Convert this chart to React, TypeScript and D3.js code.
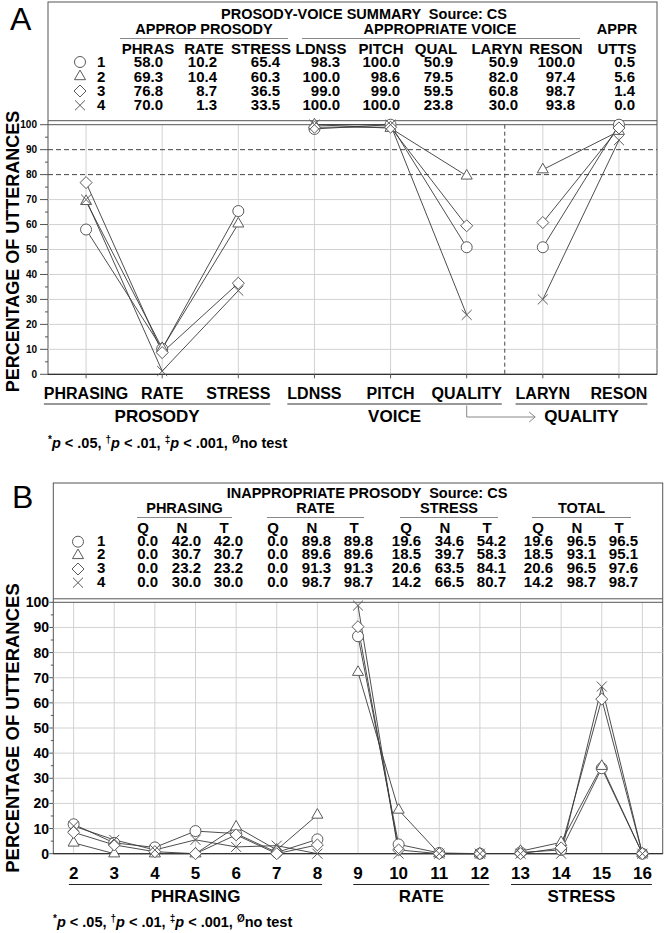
import React from 'react';
import * as d3 from 'd3';

const FONT = '"Liberation Sans", Arial, Helvetica, sans-serif';
const W = 664;
const H = 933;

// ---------- panel A : prosody-voice summary ----------
const A_CATEGORIES = ['PHRASING', 'RATE', 'STRESS', 'LDNSS', 'PITCH', 'QUALITY', 'LARYN', 'RESON'];
const A_GROUPS = [
  { label: 'PROSODY', from: 'PHRASING', to: 'STRESS' },
  { label: 'VOICE', from: 'LDNSS', to: 'QUALITY' },
  { label: 'QUALITY', from: 'LARYN', to: 'RESON' },
];
const A_SEGMENTS = [[0, 1, 2], [3, 4, 5], [6, 7]];
const A_SERIES_1 = [58.0, 10.2, 65.4, 98.3, 100.0, 50.9, 50.9, 100.0];
const A_SERIES_2 = [69.3, 10.4, 60.3, 100.0, 98.6, 79.5, 82.0, 97.4];
const A_SERIES_3 = [76.8, 8.7, 36.5, 99.0, 99.0, 59.5, 60.8, 98.7];
const A_SERIES_4 = [70.0, 1.3, 33.5, 100.0, 100.0, 23.8, 30.0, 93.8];
const A_APPR_UTTS = [0.5, 5.6, 1.4, 0.0];
const A_COLUMNS = ['PHRAS', 'RATE', 'STRESS', 'LDNSS', 'PITCH', 'QUAL', 'LARYN', 'RESON', 'UTTS'];
const A_DASHED = [80, 90];

// ---------- panel B : inappropriate prosody ----------
const B_CATEGORIES = [2, 3, 4, 5, 6, 7, 8, 9, 10, 11, 12, 13, 14, 15, 16];
const B_GROUPS = [
  { label: 'PHRASING', from: 2, to: 8 },
  { label: 'RATE', from: 9, to: 12 },
  { label: 'STRESS', from: 13, to: 16 },
];
const B_SEGMENTS = [[0, 1, 2, 3, 4, 5, 6], [7, 8, 9, 10], [11, 12, 13, 14]];
const B_SERIES_1 = [11.7, 4.3, 2.5, 9.0, 8.0, 0.5, 5.7, 86.5, 3.7, 0.3, 0, 0.5, 1.5, 34.0, 0];
const B_SERIES_2 = [4.3, 0, 0, 0, 10.7, 1.5, 15.4, 72.2, 17.4, 0, 0, 1.0, 4.5, 34.8, 0];
const B_SERIES_3 = [8.5, 3.5, 0.8, 0, 7.5, 0, 3.5, 90.3, 1.5, 0, 0, 0, 2.3, 61.5, 0];
const B_SERIES_4 = [11.0, 5.5, 1.5, 5.5, 2.7, 3.2, 0, 98.7, 0, 0, 0, 0, 0, 66.5, 0];
const B_TABLE_GROUPS = ['PHRASING', 'RATE', 'STRESS', 'TOTAL'];
const B_TABLE_COLS = ['Q', 'N', 'T'];
const B_TABLE = [
  [0.0, 42.0, 42.0, 0.0, 89.8, 89.8, 19.6, 34.6, 54.2, 19.6, 96.5, 96.5],
  [0.0, 30.7, 30.7, 0.0, 89.6, 89.6, 18.5, 39.7, 58.3, 18.5, 93.1, 95.1],
  [0.0, 23.2, 23.2, 0.0, 91.3, 91.3, 20.6, 63.5, 84.1, 20.6, 96.5, 97.6],
  [0.0, 30.0, 30.0, 0.0, 98.7, 98.7, 14.2, 66.5, 80.7, 14.2, 98.7, 98.7],
];

const SERIES_LABELS = ['1', '2', '3', '4'];
const SYMBOLS = [d3.symbolCircle, d3.symbolTriangle2, d3.symbolDiamond2, d3.symbolTimes];
const SYMBOL_SIZES = [95, 88, 92, 67];
const fmt = d3.format('.1f');

const LINE_COLOR = '#3a3a3a';
const MARK_COLOR = '#5a5a5a';
const GRID_COLOR = '#d2d2d2';
const FRAME_COLOR = '#555';
const TABLE_SIZE = 15;

let ctx: CanvasRenderingContext2D | null = null;
function textWidth(s: string, size: number) {
  if (!ctx) ctx = document.createElement('canvas').getContext('2d');
  if (!ctx) return s.length * size * 0.65;
  ctx.font = `bold ${size}px ${FONT}`;
  return ctx.measureText(s).width;
}

function Marker({ i, x, y }: { i: number; x: number; y: number }) {
  const d = d3.symbol().type(SYMBOLS[i]).size(SYMBOL_SIZES[i])() as string;
  return <path d={d} transform={`translate(${x},${y})`} fill="#fff" stroke={MARK_COLOR} strokeWidth={1} />;
}

function YAxis({ y, x0, x1, size, labelX, major, minor, dashed = [] as number[] }) {
  return (
    <g>
      {y.ticks(10).filter((t) => t > 0 && t < 100 && !dashed.includes(t)).map((t) => (
        <line key={'g' + t} x1={x0} x2={x1} y1={y(t)} y2={y(t)} stroke={GRID_COLOR} />
      ))}
      {dashed.map((t) => (
        <line key={'d' + t} x1={x0} x2={x1} y1={y(t)} y2={y(t)} stroke="#444" strokeDasharray="5,3" />
      ))}
      {y.ticks(10).map((t) => (
        <g key={t}>
          <line x1={x0 - major} x2={x0} y1={y(t)} y2={y(t)} stroke={FRAME_COLOR} />
          <text x={labelX} y={y(t)} dy="0.36em" textAnchor="end" fontSize={size} fontWeight="bold">{t}</text>
        </g>
      ))}
      {d3.range(5, 100, 10).map((t) => (
        <line key={'m' + t} x1={x0 - minor} x2={x0} y1={y(t)} y2={y(t)} stroke={FRAME_COLOR} />
      ))}
    </g>
  );
}

function Series({ x, y, cats, series, segments }) {
  const line = d3.line<number[]>().x((d) => d[0]).y((d) => d[1]);
  return (
    <g>
      {series.map((vals, s) => segments.map((seg, k) => (
        <path key={`${s}-${k}`} d={line(seg.map((i) => [x(cats[i]), y(vals[i])])) as string}
          fill="none" stroke={LINE_COLOR} strokeWidth={0.9} />
      )))}
      {series.map((vals, s) => vals.map((v, i) => (
        <Marker key={`${s}-${i}`} i={s} x={x(cats[i])} y={y(v)} />
      )))}
    </g>
  );
}

function CategoryAxis({ x, cats, groups, labelY, labelSize, lineY, lineColor, lineWidth, groupY, groupSize }) {
  const half = (c) => textWidth(String(c), labelSize) / 2;
  return (
    <g fontWeight="bold">
      {cats.map((c) => (
        <text key={c} x={x(c)} y={labelY} textAnchor="middle" fontSize={labelSize}>{c}</text>
      ))}
      {groups.map((g) => {
        const a = x(g.from) - half(g.from);
        const b = x(g.to) + half(g.to);
        return (
          <g key={g.label}>
            <line x1={a} x2={b} y1={lineY} y2={lineY} stroke={lineColor} strokeWidth={lineWidth} />
            <text x={(a + b) / 2} y={groupY} textAnchor="middle" fontSize={groupSize}>{g.label}</text>
          </g>
        );
      })}
    </g>
  );
}

function Footnote({ x, y }) {
  return (
    <text x={x} y={y} fontSize={14.5} fontWeight="bold">
      <tspan dy={-5} fontSize={10}>*</tspan>
      <tspan dy={5} fontStyle="italic">p</tspan>
      <tspan>{' < .05, '}</tspan>
      <tspan dy={-5} fontSize={10}>†</tspan>
      <tspan dy={5} fontStyle="italic">p</tspan>
      <tspan>{' < .01, '}</tspan>
      <tspan dy={-5} fontSize={10}>‡</tspan>
      <tspan dy={5} fontStyle="italic">p</tspan>
      <tspan>{' < .001, '}</tspan>
      <tspan dy={-5} fontSize={10}>Ø</tspan>
      <tspan dy={5}>no test</tspan>
    </text>
  );
}

function PanelA() {
  const left = 48, right = 657, top = 2, headBottom = 120.7;
  const x = d3.scalePoint<string>().domain(A_CATEGORIES).range([left, right]).padding(0.5);
  const y = d3.scaleLinear().domain([0, 100]).range([374.3, 124.7]);
  const series = [A_SERIES_1, A_SERIES_2, A_SERIES_3, A_SERIES_4];
  const table = series.map((s, i) => [...s, A_APPR_UTTS[i]]);
  const colCenter = [148, 204, 261, 321, 381, 436, 497, 556, 617];
  const colRight = [163, 217, 280, 340, 400, 453, 518, 575, 635];
  const rowY = [67, 81.5, 96, 110.3];
  const qx = x('QUALITY') as number;
  const qGroupA = x('LARYN')! - textWidth('LARYN', 16) / 2;
  const qGroupB = x('RESON')! + textWidth('RESON', 16) / 2;
  const arrowEnd = (qGroupA + qGroupB) / 2 - textWidth('QUALITY', 17) / 2 - 9;
  const split = (x('QUALITY')! + x('LARYN')!) / 2;
  return (
    <g>
      <text x={10} y={30} fontSize={32}>A</text>
      <rect x={left} y={top} width={right - left} height={y(0) - top} fill="none" stroke={FRAME_COLOR} />
      <g fontWeight="bold" fontSize={TABLE_SIZE}>
        <text x={364} y={19} textAnchor="middle" fontSize={14.5} style={{ whiteSpace: 'pre' }}>PROSODY-VOICE SUMMARY  Source: CS</text>
        <text x={204} y={34} textAnchor="middle" fontSize={14.5}>APPROP PROSODY</text>
        <line x1={120} x2={288} y1={38.5} y2={38.5} stroke="#888" strokeWidth={1.2} />
        <text x={440} y={34} textAnchor="middle" fontSize={14.5}>APPROPRIATE VOICE</text>
        <line x1={302} x2={580} y1={38.5} y2={38.5} stroke="#888" strokeWidth={1.2} />
        <text x={617} y={34} textAnchor="middle" fontSize={14.5}>APPR</text>
        {A_COLUMNS.map((c, j) => <text key={c + j} x={colCenter[j]} y={54} textAnchor="middle">{c}</text>)}
        {table.map((row, i) => (
          <g key={i}>
            <Marker i={i} x={80} y={rowY[i] - 5} />
            <text x={97} y={rowY[i]}>{SERIES_LABELS[i]}</text>
            {row.map((v, j) => <text key={j} x={colRight[j]} y={rowY[i]} textAnchor="end">{fmt(v)}</text>)}
          </g>
        ))}
      </g>
      <line x1={left} x2={right} y1={headBottom} y2={headBottom} stroke={FRAME_COLOR} />
      {A_CATEGORIES.map((c) => (
        <line key={c} x1={x(c)} x2={x(c)} y1={y(100)} y2={y(0)} stroke={GRID_COLOR} />
      ))}
      <YAxis y={y} x0={left} x1={right} size={10} labelX={37} major={8} minor={3} dashed={A_DASHED} />
      <line x1={split} x2={split} y1={y(100)} y2={y(0)} stroke="#444" strokeDasharray="4,3" />
      <line x1={left} x2={right} y1={y(100)} y2={y(100)} stroke={FRAME_COLOR} />
      <line x1={left} x2={right} y1={y(0)} y2={y(0)} stroke="#222" />
      {A_CATEGORIES.map((c) => (
        <line key={'t' + c} x1={x(c)} x2={x(c)} y1={y(0)} y2={y(0) + 4} stroke={FRAME_COLOR} />
      ))}
      <Series x={x} y={y} cats={A_CATEGORIES} series={series} segments={A_SEGMENTS} />
      <text transform={`translate(18.5,${(y(0) + y(100)) / 2 + 2}) rotate(-90)`} textAnchor="middle" fontSize={18} fontWeight="bold">PERCENTAGE OF UTTERANCES</text>
      <CategoryAxis x={x} cats={A_CATEGORIES} groups={A_GROUPS} labelY={399} labelSize={16}
        lineY={404} lineColor="#999" lineWidth={2.2} groupY={422} groupSize={17} />
      <path d={`M${qx},405.5V417H${arrowEnd}M${arrowEnd - 6},412L${arrowEnd},417L${arrowEnd - 6},422`} fill="none" stroke="#888" />
      <Footnote x={48} y={448} />
    </g>
  );
}

function PanelB() {
  const left = 53.3, right = 662.7, top = 483, headBottom = 598.8;
  const x = d3.scalePoint<number>().domain(B_CATEGORIES).range([left, right]).padding(0.5);
  const y = d3.scaleLinear().domain([0, 100]).range([853.7, 602.3]);
  const series = [B_SERIES_1, B_SERIES_2, B_SERIES_3, B_SERIES_4];
  const groupSpan = [[137, 232], [267, 364], [400, 498], [532, 631]];
  const colOffset = [21, 64, 106];
  const headOffset = [15, 19, 19];
  const rowY = [545.7, 559.4, 573, 586.7];
  return (
    <g>
      <text x={12} y={508} fontSize={32}>B</text>
      <rect x={left} y={top} width={right - left} height={y(0) - top} fill="none" stroke={FRAME_COLOR} />
      <g fontWeight="bold" fontSize={TABLE_SIZE}>
        <text x={367} y={498} textAnchor="middle" fontSize={14.5} style={{ whiteSpace: 'pre' }}>INAPPROPRIATE PROSODY  Source: CS</text>
        {B_TABLE_GROUPS.map((g, k) => (
          <g key={g}>
            <text x={(groupSpan[k][0] + groupSpan[k][1]) / 2} y={513} textAnchor="middle" fontSize={14.5}>{g}</text>
            <line x1={groupSpan[k][0]} x2={groupSpan[k][1]} y1={517.5} y2={517.5} stroke="#888" strokeWidth={1.2} />
            {B_TABLE_COLS.map((c, j) => (
              <text key={c} x={groupSpan[k][0] + colOffset[j] - headOffset[j]} y={532.5} textAnchor="middle">{c}</text>
            ))}
          </g>
        ))}
        {B_TABLE.map((row, i) => (
          <g key={i}>
            <Marker i={i} x={78} y={rowY[i] - 4} />
            <text x={97} y={rowY[i]}>{SERIES_LABELS[i]}</text>
            {row.map((v, j) => (
              <text key={j} x={groupSpan[Math.floor(j / 3)][0] + colOffset[j % 3]} y={rowY[i]} textAnchor="end">{fmt(v)}</text>
            ))}
          </g>
        ))}
      </g>
      <line x1={left} x2={right} y1={headBottom} y2={headBottom} stroke={FRAME_COLOR} />
      {B_CATEGORIES.map((c) => (
        <line key={c} x1={x(c)} x2={x(c)} y1={y(100)} y2={y(0)} stroke={GRID_COLOR} />
      ))}
      <YAxis y={y} x0={left} x1={right} size={14} labelX={49} major={4} minor={2.5} />
      <line x1={left} x2={right} y1={y(100)} y2={y(100)} stroke={FRAME_COLOR} />
      <line x1={left} x2={right} y1={y(0)} y2={y(0)} stroke="#222" />
      <Series x={x} y={y} cats={B_CATEGORIES} series={series} segments={B_SEGMENTS} />
      <text transform={`translate(18.5,${(y(0) + y(100)) / 2}) rotate(-90)`} textAnchor="middle" fontSize={18.5} fontWeight="bold">PERCENTAGE OF UTTERANCES</text>
      <CategoryAxis x={x} cats={B_CATEGORIES} groups={B_GROUPS} labelY={878.5} labelSize={17}
        lineY={884.5} lineColor="#222" lineWidth={1} groupY={901.5} groupSize={17} />
      <Footnote x={53} y={927} />
    </g>
  );
}

export default function App() {
  return (
    <svg width={W} height={H} style={{ position: 'absolute', left: 0, top: 0, background: '#fff' }}
      fontFamily={FONT}>
      <rect width={W} height={H} fill="#fff" />
      <PanelA />
      <PanelB />
    </svg>
  );
}
